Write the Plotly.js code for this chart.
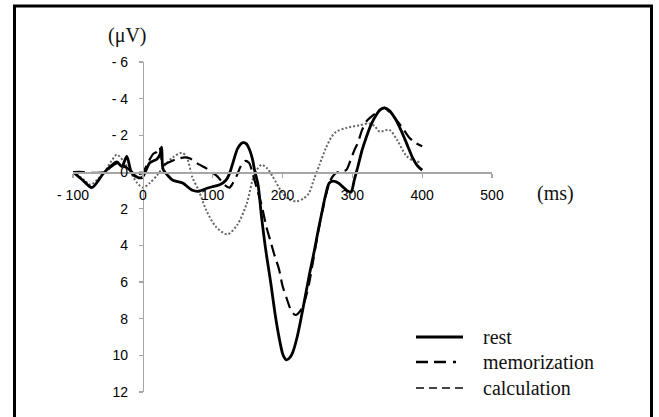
<!DOCTYPE html>
<html>
<head>
<meta charset="utf-8">
<script src="https://cdn.plot.ly/plotly-3.0.1.min.js"></script>
<style>html,body{margin:0;padding:0;background:#fff;}#chart{width:659px;height:417px;}</style>
</head>
<body>
<div id="chart"></div>
<script>
// ---- data (time in ms, amplitude in µV; negative plotted up) ----
const restX = [-100,-86,-73,-57,-45,-37,-30,-23,-16,-7,-1,10,20,25,27,29,36,43,57,71,80,91,100,110,119,124,129,136,143,148,153,157,160,165,170,176,183,190,196,201,206,211,215,221,227,233,239,245,251,257,262,267,273,280,286,292,298,303,308,314,320,327,334,340,346,353,360,367,374,380,386,393,400];
const restY = [0,0.45,0.85,0.1,-0.35,-0.55,-0.3,-0.85,0.05,0.3,0.3,-0.5,-0.7,-1.0,-1.35,-0.15,0.2,0.45,0.6,1.0,1.05,0.9,0.8,0.7,0.45,0.1,-0.5,-1.3,-1.6,-1.55,-1.2,-0.7,-0.1,0.7,2.45,4.25,6.0,7.9,9.2,10.0,10.25,10.1,9.8,9.0,7.9,6.7,5.5,4.4,3.2,2.1,1.2,0.6,0.5,0.6,0.8,1.0,1.1,0.4,-0.3,-1.2,-1.9,-2.6,-3.1,-3.4,-3.5,-3.35,-3.0,-2.5,-1.9,-1.35,-0.8,-0.35,-0.1];

const memoX = [-100,-85,-70,-55,-45,-35,-25,-15,-5,0,6,15,20,24,29,36,45,53,60,67,75,81,91,100,107,117,124,129,134,140,146,152,158,164,170,177,183,189,195,200,206,213,219,226,232,238,244,250,256,262,268,275,283,291,297,303,308,314,321,330,339,346,355,370,381,390,400];
const memoY = [0,0,0.05,0,-0.3,-0.5,-0.3,0,0.1,0.05,-0.4,-1.0,-1.1,-1.35,-0.4,-0.5,-0.65,-0.75,-0.8,-0.75,-0.55,-0.4,-0.2,0.05,0.25,0.7,0.85,0.6,0.25,-0.3,-0.6,-0.5,0.2,1.0,1.8,3.0,3.8,4.6,5.3,6.2,6.9,7.6,7.8,7.55,7.0,6.1,4.8,3.5,2.3,1.3,0.5,0.1,-0.05,-0.1,-0.6,-1.2,-1.6,-2.3,-2.8,-3.1,-3.35,-3.5,-3.2,-2.5,-1.9,-1.6,-1.4];

const calcX = [-100,-85,-75,-65,-55,-45,-37,-28,-18,-8,0,10,20,30,43,56,63,71,80,91,105,121,135,149,157,163,170,178,186,200,210,220,230,238,245,253,262,270,277,291,310,324,332,339,353,364,377,388,396];
const calcY = [0,0.4,0.7,0.4,0,-0.6,-0.95,-0.6,0,0.6,0.85,0.6,0.2,-0.3,-0.8,-1.05,-0.8,0.3,1.0,2.1,3.0,3.4,2.9,1.7,0.45,-0.1,-0.4,-0.2,0.25,1.15,1.5,1.6,1.45,1.15,0.4,-0.4,-1.3,-1.9,-2.2,-2.4,-2.55,-2.65,-2.5,-2.2,-2.3,-1.75,-0.9,-0.6,-0.55];

const xTickVals = [-100,0,100,200,300,400,500];
const xTickText = ['- 100','0','100','200','300','400','500'];
const yTickVals = [-6,-4,-2,0,2,4,6,8,10,12];
const yTickText = ['- 6','- 4','- 2','0','2','4','6','8','10','12'];
const seriesNames = ['rest','memorization','calculation'];

// ---- layout helpers (pixel -> paper) ----
const L = 73, R = 492, T = 62, B = 392;
const px = v => (v - L) / (R - L);
const py = v => (B - v) / (B - T);

const traces = [
  {x: calcX, y: calcY, mode:'lines', line:{color:'#666', width:2, dash:'2px,2px', shape:'spline', smoothing:0.8}, name: seriesNames[2], showlegend:false},
  {x: memoX, y: memoY, mode:'lines', line:{color:'#000', width:2.2, dash:'12px,6px', shape:'spline', smoothing:0.8}, name: seriesNames[1], showlegend:false},
  {x: restX, y: restY, mode:'lines', line:{color:'#000', width:2.8, shape:'spline', smoothing:0.8}, name: seriesNames[0], showlegend:false}
];

const tickFont = {family:'Liberation Sans, Arial, sans-serif', size:14, color:'#000'};
const serif = {family:'Liberation Serif, Times New Roman, serif', size:20, color:'#111'};

const legY = [337, 362, 388];
const legend = [
  {dash:'solid', color:'#000', width:3},
  {dash:'12px,6px,12px,7px,3px,20px', color:'#000', width:2.5},
  {dash:'8px,5px', color:'#444', width:2}
];

const shapes = [
  {type:'rect', xref:'paper', yref:'paper', x0:px(14.5), x1:px(651.5), y0:py(6), y1:py(419), line:{color:'#000', width:3}, fillcolor:'rgba(0,0,0,0)'}
];
const annotations = [
  {xref:'paper', yref:'paper', x:px(127), y:py(35), text:'(μV)', showarrow:false, font:serif, xanchor:'center', yanchor:'middle'},
  {xref:'paper', yref:'paper', x:px(555), y:py(193), text:'(ms)', showarrow:false, font:serif, xanchor:'center', yanchor:'middle'}
];
seriesNames.forEach((n,i) => {
  shapes.push({type:'line', xref:'paper', yref:'paper', x0:px(416), x1:px(463), y0:py(legY[i]), y1:py(legY[i]), line:legend[i]});
  annotations.push({xref:'paper', yref:'paper', x:px(481), y:py(legY[i]), text:n, showarrow:false, font:serif, xanchor:'left', yanchor:'middle'});
});

const layout = {
  width:659, height:417,
  margin:{l:L, r:659-R, t:T, b:417-B, pad:0},
  paper_bgcolor:'#fff', plot_bgcolor:'rgba(0,0,0,0)',
  showlegend:false,
  xaxis:{range:[-100,500], anchor:'free', position:12/18, showgrid:false, zeroline:false,
         showline:true, linecolor:'#a6a6a6', linewidth:1.5,
         ticks:'outside', ticklen:4, tickcolor:'#a6a6a6', tickwidth:1.2,
         tickvals:xTickVals, ticktext:xTickText, tickfont:tickFont, ticklabelstandoff:6},
  yaxis:{range:[12,-6], anchor:'free', position:1/6, showgrid:false, zeroline:false,
         showline:true, linecolor:'#a6a6a6', linewidth:1.5,
         ticks:'outside', ticklen:4, tickcolor:'#a6a6a6', tickwidth:1.2,
         tickvals:yTickVals, ticktext:yTickText, tickfont:tickFont, ticklabelstandoff:8},
  shapes:shapes, annotations:annotations
};

Plotly.newPlot('chart', traces, layout, {staticPlot:true, displayModeBar:false});
</script>
</body>
</html>
